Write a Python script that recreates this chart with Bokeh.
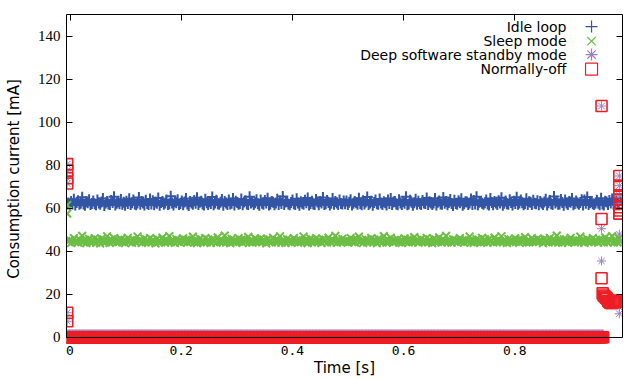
import numpy as np
from bokeh.plotting import figure
from bokeh.models import ColumnDataSource, Range1d, FixedTicker, LinearAxis, Span
from bokeh.core.properties import value
from bokeh.embed import file_html
from bokeh.resources import INLINE

# ---------------- data ----------------
series_names = ["Idle loop", "Sleep mode", "Deep software standby mode", "Normally-off"]
series_colors = ["#3355A5", "#6CBE45", "#A07EC0", "#EE1D24"]
series_markers = ["cross", "x", "asterisk", "square"]

x_ticks = [0, 0.2, 0.4, 0.6, 0.8]
x_tick_labels = ["0", "0.2", "0.4", "0.6", "0.8"]
y_ticks = [0, 20, 40, 60, 80, 100, 120, 140]

# steady-state samples (mA)
idle_values = [
    62.4, 61.8, 63.1, 62.0, 64.2, 61.5, 62.7, 63.5, 61.9, 62.3, 65.1, 62.0, 61.4, 63.0, 62.6, 64.0, 61.7, 62.2, 63.4, 62.1,
    61.6, 63.8, 62.5, 61.9, 62.9, 64.6, 61.3, 62.4, 63.2, 62.0, 61.8, 63.6, 62.7, 65.4, 61.5, 62.3, 63.0, 62.1, 64.1, 61.9,
    62.8, 61.4, 63.3, 62.2, 64.4, 61.7, 62.6, 63.9, 62.0, 61.6, 62.5, 65.0, 61.9, 63.1, 62.4, 61.5, 63.7, 62.2, 61.8, 64.3,
    62.0, 63.5, 61.6, 62.9, 62.3, 64.8, 61.4, 62.7, 63.2, 61.9, 62.5, 63.8, 61.7, 62.1, 65.6, 62.4, 61.5, 63.0, 62.6, 64.0,
    61.8, 62.2, 63.4, 61.6, 62.9, 64.5, 62.0, 61.3, 63.1, 62.5, 61.9, 63.6, 62.3, 64.9, 61.7, 62.8, 63.3, 62.0, 61.5, 64.2,
    62.6, 61.8, 63.0, 62.2, 65.2, 61.6, 62.4, 63.7, 62.1, 61.9, 62.8, 64.1, 61.4, 63.2, 62.5, 61.7, 63.9, 62.0, 62.3, 64.6,
    61.5, 63.3, 62.7, 61.9, 62.2, 64.3, 61.6, 62.9, 63.5, 62.0, 61.8, 65.3, 62.4, 63.0, 61.7, 62.6, 64.0, 62.1, 61.4, 63.8,
    62.3, 61.9, 63.6, 62.5, 64.7, 61.5, 62.0, 63.1, 62.8, 61.6, 62.4, 64.2, 61.8, 63.4, 62.2, 65.5, 61.7, 62.9, 63.2, 62.0,
    61.6, 62.7, 63.9, 62.1, 61.8, 64.4, 62.5, 61.4, 63.0, 62.3, 61.9, 63.7, 62.6, 64.8, 61.5, 62.2, 63.3, 62.0, 61.7, 64.1,
    62.9, 61.6, 63.2, 62.4, 65.0, 61.8, 62.1, 63.6, 62.7, 61.5, 62.3, 64.5, 61.9, 63.1, 62.5, 61.7, 63.8, 62.2, 62.0, 63.4,
    62.1, 63.4, 61.7, 62.8, 64.0, 61.5, 62.3, 63.1, 62.6, 61.9, 64.7, 62.2, 61.6, 63.5, 62.0, 62.9, 65.2, 61.8, 62.5, 63.3,
    61.4, 62.7, 63.8, 62.1, 61.9, 64.3, 62.4, 61.7, 63.0, 62.6, 61.5, 63.9, 62.2, 64.5, 61.8, 62.9, 63.2, 62.0, 61.6, 64.0,
    62.5, 61.8, 63.1, 62.3, 65.3, 61.6, 62.0, 63.7, 62.8, 61.4, 62.6, 64.2, 61.9, 63.3, 62.1, 61.7, 63.6, 62.4, 62.2, 64.8,
    61.7, 63.0, 62.5, 61.8, 62.4, 64.6, 61.5, 62.8, 63.4, 62.0, 61.9, 65.0, 62.3, 63.2, 61.6, 62.7, 64.1, 62.2, 61.3, 63.7,
    62.2, 61.9, 63.5, 62.6, 64.4, 61.4, 62.1, 63.0, 62.9, 61.7, 62.5, 64.3, 61.8, 63.6, 62.0, 65.4, 61.6, 62.8, 63.1, 62.3,
    61.9, 62.6, 63.8, 62.0, 61.5, 64.5, 62.7, 61.6, 63.2, 62.4, 61.8, 63.5, 62.5, 64.9, 61.4, 62.3, 63.4, 62.1, 61.9, 64.0,
    62.7, 61.5, 63.3, 62.2, 65.1, 61.9, 62.4, 63.9, 62.6, 61.6, 62.2, 64.4, 61.7, 63.0, 62.8, 61.8, 63.7, 62.3, 62.1, 63.5,
    61.6, 63.1, 62.4, 61.8, 62.9, 64.2, 61.5, 62.6, 63.6, 62.1, 61.7, 65.5, 62.5, 63.3, 61.9, 62.0, 64.1, 62.7, 61.4, 63.9,
    62.4, 61.7, 63.2, 62.8, 64.6, 61.6, 62.2, 63.4, 62.5, 61.9, 62.7, 64.0, 61.5, 63.8, 62.3, 65.2, 61.8, 62.6, 63.0, 62.1,
    61.8, 62.5, 63.7, 62.3, 61.6, 64.7, 62.0, 61.5, 63.3, 62.9, 61.7, 63.6, 62.4, 64.3, 61.9, 62.1, 63.5, 62.6, 61.8, 64.4,
]
sleep_values = [
    44.6, 45.2, 43.9, 44.8, 46.1, 44.3, 45.0, 44.1, 45.6, 44.7, 47.2, 44.4, 45.3, 43.8, 44.9, 45.8, 44.2, 45.1, 44.6, 46.0,
    44.0, 45.4, 44.7, 43.7, 45.9, 44.5, 45.1, 44.2, 47.0, 44.8, 43.9, 45.5, 44.4, 46.2, 44.9, 44.1, 45.3, 44.6, 45.7, 44.3,
    45.0, 43.8, 44.9, 46.3, 44.5, 45.2, 44.0, 45.6, 44.7, 44.2, 46.9, 44.8, 45.4, 43.9, 44.6, 45.9, 44.3, 45.1, 44.5, 46.1,
    44.1, 45.3, 44.8, 43.7, 45.8, 44.4, 45.0, 44.2, 46.4, 44.9, 44.0, 45.5, 44.6, 47.1, 44.3, 45.2, 44.7, 43.9, 45.7, 44.5,
    45.1, 44.0, 44.8, 46.0, 44.6, 45.3, 44.1, 45.6, 44.4, 44.9, 46.8, 44.2, 45.4, 43.8, 44.7, 45.9, 44.5, 45.0, 44.3, 46.2,
    44.2, 45.5, 44.9, 43.9, 45.7, 44.6, 45.1, 44.0, 46.5, 44.8, 44.3, 45.2, 44.5, 47.3, 44.1, 45.4, 44.7, 43.8, 45.8, 44.4,
    45.0, 44.2, 44.6, 46.1, 44.8, 45.3, 43.9, 45.6, 44.5, 44.9, 46.7, 44.3, 45.2, 44.0, 44.7, 46.0, 44.4, 45.1, 44.6, 45.9,
    44.3, 45.4, 44.8, 43.7, 45.8, 44.5, 45.0, 44.1, 46.3, 44.9, 44.2, 45.5, 44.6, 47.0, 44.0, 45.3, 44.8, 43.9, 45.7, 44.4,
    45.2, 44.1, 44.7, 46.2, 44.5, 45.1, 44.0, 45.6, 44.3, 44.8, 46.9, 44.6, 45.3, 43.8, 44.9, 45.9, 44.2, 45.0, 44.5, 46.0,
    44.4, 45.3, 44.9, 43.9, 45.7, 44.6, 45.2, 44.1, 46.4, 44.7, 44.2, 45.4, 44.8, 47.2, 44.0, 45.5, 44.6, 44.3, 45.8, 44.5,
    44.8, 45.1, 44.0, 44.6, 46.2, 44.4, 45.3, 44.2, 45.7, 44.9, 46.8, 44.5, 45.0, 43.9, 44.7, 45.6, 44.1, 45.2, 44.8, 46.1,
    44.3, 45.5, 44.6, 43.8, 45.8, 44.7, 45.0, 44.1, 47.1, 44.9, 44.0, 45.4, 44.5, 46.3, 44.8, 44.2, 45.2, 44.7, 45.6, 44.2,
    45.1, 43.9, 44.8, 46.0, 44.6, 45.3, 44.1, 45.7, 44.5, 44.3, 46.6, 44.9, 45.1, 44.0, 44.7, 45.8, 44.4, 45.2, 44.6, 46.2,
    44.2, 45.4, 44.7, 43.8, 45.9, 44.3, 45.1, 44.4, 46.5, 44.8, 44.1, 45.6, 44.5, 47.2, 44.2, 45.3, 44.9, 44.0, 45.6, 44.6,
    45.0, 44.1, 44.9, 46.1, 44.5, 45.2, 44.0, 45.5, 44.6, 44.8, 46.9, 44.3, 45.3, 43.9, 44.8, 45.7, 44.4, 45.1, 44.2, 46.3,
    44.3, 45.6, 44.8, 44.0, 45.8, 44.5, 45.0, 44.1, 46.4, 44.9, 44.4, 45.3, 44.6, 47.0, 44.2, 45.5, 44.8, 43.9, 45.7, 44.3,
    45.1, 44.3, 44.7, 46.0, 44.9, 45.2, 44.0, 45.7, 44.4, 44.8, 46.6, 44.2, 45.1, 44.1, 44.6, 46.1, 44.5, 45.0, 44.7, 45.8,
    44.4, 45.3, 44.9, 43.8, 45.9, 44.6, 45.1, 44.2, 46.2, 44.8, 44.3, 45.6, 44.5, 47.3, 44.1, 45.4, 44.7, 44.0, 45.6, 44.5,
    45.3, 44.0, 44.8, 46.3, 44.6, 45.0, 44.1, 45.5, 44.4, 44.9, 46.8, 44.7, 45.2, 43.9, 44.8, 45.8, 44.3, 45.1, 44.6, 46.1,
    44.5, 45.2, 44.8, 44.0, 45.6, 44.7, 45.3, 44.2, 46.5, 44.6, 44.1, 45.5, 44.9, 47.1, 44.1, 45.4, 44.7, 44.2, 45.9, 44.4,
]
steady_t_start, steady_t_end = -0.003, 0.990      # s
deep_level = 1.6                                   # mA, deep standby floor
off_level = 0.0                                    # mA, normally-off floor
floor_t_start, floor_t_end = -0.005, 0.959         # s
floor_samples = 700

# start-up transients (t, mA)
idle_start_t = [-0.005]
idle_start_v = [62.0]
sleep_start_t = [-0.005, -0.005]
sleep_start_v = [61.5, 57.5]
deep_start_t = [-0.005, -0.005, -0.005, -0.005, -0.005, -0.005]
deep_start_v = [80.5, 77.5, 74.0, 71.5, 11.5, 7.5]
off_start_t = [-0.005, -0.005, -0.005, -0.005, -0.005, -0.005]
off_start_v = [80.5, 77.5, 74.0, 71.5, 11.5, 7.5]

# end transients (t, mA)
deep_end_t = [0.956, 0.956, 0.956, 0.988, 0.988, 0.988, 0.988, 0.988, 0.988, 0.988]
deep_end_v = [107.5, 50.5, 35.5, 48.0, 14.0, 11.0, 75.0, 70.5, 66.0, 62.0]
off_end_t = [0.956, 0.956, 0.956,
             0.958, 0.960, 0.962, 0.964, 0.966, 0.968, 0.970, 0.972, 0.974, 0.976, 0.978, 0.980, 0.982, 0.984, 0.986,
             0.988, 0.988, 0.988, 0.988, 0.988, 0.988, 0.988, 0.988]
off_end_v = [107.5, 55.0, 27.5,
             20.5, 19.5, 19.0, 18.5, 18.0, 17.0, 16.5, 16.0, 16.0, 16.5, 17.0, 16.5, 16.5, 17.0, 16.5,
             75.0, 70.5, 66.0, 64.0, 62.0, 60.5, 59.0, 57.5]

# ---------------- build sources ----------------
t_steady = np.linspace(steady_t_start, steady_t_end, len(idle_values))
t_floor = np.linspace(floor_t_start, floor_t_end, floor_samples)

idle_src = ColumnDataSource(dict(t=list(idle_start_t) + list(t_steady), v=list(idle_start_v) + list(idle_values)))
sleep_src = ColumnDataSource(dict(t=list(sleep_start_t) + list(t_steady), v=list(sleep_start_v) + list(sleep_values)))
deep_src = ColumnDataSource(dict(t=list(deep_start_t) + list(t_floor) + list(deep_end_t),
                                 v=list(deep_start_v) + [deep_level] * floor_samples + list(deep_end_v)))
off_src = ColumnDataSource(dict(t=list(off_start_t) + list(t_floor) + list(off_end_t),
                                v=list(off_start_v) + [off_level] * floor_samples + list(off_end_v)))

# ---------------- figure ----------------
x_lo, x_hi = -0.0063, 0.9937
y_lo, y_hi = -2.8, 150
p = figure(width=624, height=379, output_backend="svg", toolbar_location=None,
           x_range=Range1d(x_lo, x_hi), y_range=Range1d(y_lo, y_hi),
           min_border_left=66, min_border_right=2, min_border_top=14, min_border_bottom=36)
p.grid.visible = False
p.outline_line_color = None
p.background_fill_color = "white"
p.border_fill_color = "white"

# inward ticks of the bottom axis (drawn from the y=0 line upward)
p.ray(x=x_ticks, y=[0] * len(x_ticks), length=6, length_units="screen", angle=np.pi / 2,
      line_color="black", line_width=1)

marker_sizes = [11, 11, 9, 11]
widths = [2.0, 2.0, 1.0, 1.6]
for src, m, c, s, w in zip([idle_src, sleep_src, deep_src, off_src], series_markers, series_colors, marker_sizes, widths):
    p.scatter("t", "v", source=src, marker=m, size=s, line_color=c, fill_color=None, line_width=w)

# axes
xa = p.xaxis[0]
xa.ticker = FixedTicker(ticks=x_ticks)
xa.major_label_overrides = {t: l for t, l in zip(x_ticks, x_tick_labels)}
xa.axis_label = "Time [s]"
xa.major_label_text_font = "DejaVu Sans Mono"
xa.major_label_text_font_size = "13px"
xa.major_label_standoff = 2
xa.axis_label_standoff = 1
xa.axis_line_color = None
xa.major_tick_line_color = None

ya = p.yaxis[0]
ya.ticker = FixedTicker(ticks=y_ticks)
ya.bounds = (0, y_hi)
ya.axis_label = "Consumption current [mA]"
ya.major_label_text_font = "Liberation Sans Narrow"
ya.major_label_text_font_size = "15px"
ya.major_label_standoff = 6
ya.axis_label_standoff = 12
ya.axis_line_color = "black"
ya.major_tick_line_color = "black"

for ax in (xa, ya):
    ax.major_tick_in = 6
    ax.major_tick_out = 0
    ax.minor_tick_line_color = None
    ax.major_label_text_color = "black"
    ax.axis_label_text_font = "DejaVu Sans"
    ax.axis_label_text_font_size = "15px"
    ax.axis_label_text_font_style = "normal"
    ax.axis_label_text_color = "black"

# mirrored frame sides with inward ticks (no labels)
right_ax = LinearAxis(ticker=FixedTicker(ticks=y_ticks), bounds=(0, y_hi), major_tick_in=6, major_tick_out=0,
                      minor_tick_line_color=None, major_label_text_color=None,
                      major_label_text_font_size="1px", major_label_standoff=0, axis_line_color="black")
p.add_layout(right_ax, "right")
top_ax = LinearAxis(ticker=FixedTicker(ticks=x_ticks), major_tick_in=6, major_tick_out=0,
                    minor_tick_line_color=None, major_label_text_color=None,
                    major_label_text_font_size="1px", major_label_standoff=0, axis_line_color="black")
p.add_layout(top_ax, "above")

# bottom frame line at y = 0 (points overflow below it, as in the original)
p.add_layout(Span(location=0, dimension="width", line_color="black", line_width=1))

# legend (gnuplot style: text right-aligned, sample to its right)
legend_rows_y = [144.4, 137.6, 131.4, 124.6]
legend_text_x = 0.893
legend_mark_x = 0.938
leg_txt = ColumnDataSource(dict(x=[legend_text_x] * 4, y=legend_rows_y, txt=series_names))
p.text("x", "y", text="txt", source=leg_txt, text_align="right", text_baseline="middle",
       text_font=value("DejaVu Sans"), text_font_size="14px", text_color="black")
leg_mk = ColumnDataSource(dict(x=[legend_mark_x] * 4, y=legend_rows_y, m=series_markers, c=series_colors))
p.scatter("x", "y", source=leg_mk, marker="m", size=12, line_color="c", fill_color=None, line_width=1.2)

open("out.html", "w").write(file_html(p, INLINE))
